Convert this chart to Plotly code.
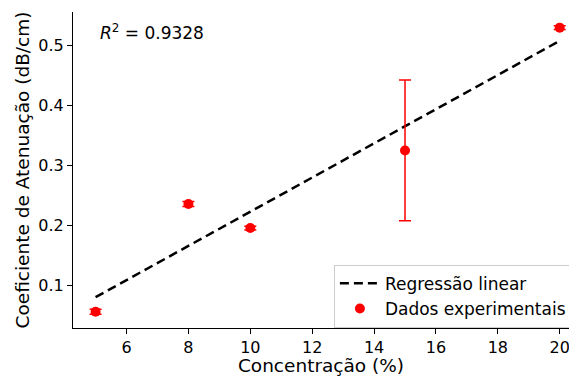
import numpy as np
import plotly.graph_objects as go

conc = [5, 8, 10, 15, 20]
coef = [0.057, 0.236, 0.196, 0.325, 0.529]
err = [0.004, 0.004, 0.003, 0.117, 0.003]
r2_text = "<i>R</i><sup>2</sup> = 0.9328"

slope, intercept = np.polyfit(conc, coef, 1)
xfit = [min(conc), max(conc)]
yfit = [slope * v + intercept for v in xfit]

FONT = "DejaVu Sans"

fig = go.Figure()
fig.add_trace(go.Scatter(
    x=xfit, y=yfit, mode="lines", name="Regressão linear",
    line=dict(color="black", width=2.5, dash="9px,5px"),
))
fig.add_trace(go.Scatter(
    x=conc, y=coef, mode="markers", name="Dados experimentais",
    marker=dict(color="#ff0000", size=10),
    error_y=dict(type="data", array=err, visible=True, color="#ff0000", thickness=1.5, width=6),
))

fig.add_annotation(
    x=0.05, y=0.937, xref="paper", yref="paper", text=r2_text, showarrow=False,
    xanchor="left", yanchor="middle", font=dict(family=FONT, size=17, color="black"),
)

fig.update_layout(
    width=569, height=376,
    margin=dict(l=73, r=0, t=12, b=48, autoexpand=False),
    plot_bgcolor="white", paper_bgcolor="white",
    font=dict(family=FONT, size=16, color="black"),
    showlegend=True,
    legend=dict(
        x=0.526, y=0.2, xanchor="left", yanchor="top",
        bgcolor="white", bordercolor="#cccccc", borderwidth=1,
        font=dict(family=FONT, size=17, color="black"),
        itemwidth=40, tracegroupgap=0,
    ),
    xaxis=dict(
        range=[4.27, 20.3], tickmode="array", tickvals=[6, 8, 10, 12, 14, 16, 18, 20],
        showgrid=False, zeroline=False, showline=True, linecolor="black", linewidth=1,
        ticks="outside", ticklen=5, tickcolor="black", tickwidth=1,
        tickfont=dict(family=FONT, size=16), ticklabeloverflow="allow",
        title=dict(text="Concentração (%)", font=dict(family=FONT, size=18.5), standoff=7),
    ),
    yaxis=dict(
        range=[0.030, 0.555], tickmode="array", tickvals=[0.1, 0.2, 0.3, 0.4, 0.5],
        showgrid=False, zeroline=False, showline=True, linecolor="black", linewidth=1,
        ticks="outside", ticklen=5, tickcolor="black", tickwidth=1,
        tickfont=dict(family=FONT, size=16),
        title=dict(text="Coeficiente de Atenuação (dB/cm)", font=dict(family=FONT, size=18.5), standoff=3),
    ),
)

fig.write_html("out.html")
